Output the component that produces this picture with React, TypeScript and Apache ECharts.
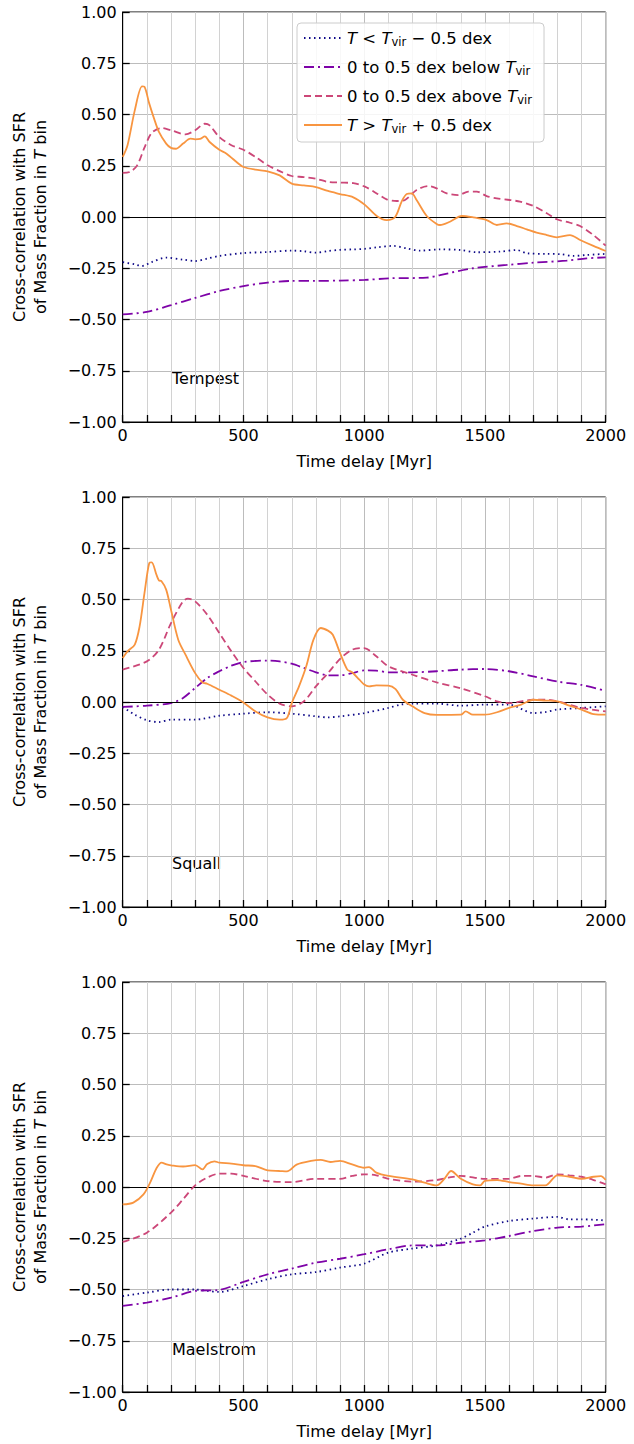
import { useEffect, useRef } from "react";
import * as echarts from "echarts";

// [time delay (Myr), cross-correlation]
const tempestCold = [[0,-0.22],[50,-0.231],[80,-0.239],[120,-0.22],[180,-0.198],[250,-0.208],[300,-0.215],[350,-0.203],[400,-0.19],[500,-0.176],[600,-0.171],[700,-0.164],[750,-0.167],[800,-0.174],[850,-0.166],[900,-0.16],[955,-0.158],[1003,-0.155],[1052,-0.148],[1121,-0.141],[1176,-0.153],[1231,-0.164],[1314,-0.158],[1397,-0.161],[1466,-0.172],[1563,-0.169],[1632,-0.161],[1673,-0.177],[1756,-0.18],[1811,-0.181],[1866,-0.19],[1921,-0.185],[2000,-0.18]];
const tempestBelow = [[0,-0.475],[100,-0.463],[200,-0.43],[300,-0.395],[400,-0.361],[500,-0.337],[600,-0.32],[700,-0.312],[800,-0.312],[900,-0.31],[1003,-0.307],[1107,-0.299],[1259,-0.296],[1314,-0.283],[1452,-0.25],[1590,-0.234],[1700,-0.223],[1838,-0.213],[1921,-0.202],[2000,-0.197]];
const tempestAbove = [[0,0.215],[30,0.22],[60,0.252],[90,0.338],[120,0.41],[160,0.434],[200,0.423],[260,0.403],[300,0.423],[340,0.455],[360,0.447],[400,0.39],[450,0.35],[500,0.328],[550,0.293],[600,0.252],[650,0.224],[700,0.2],[750,0.195],[800,0.187],[850,0.171],[900,0.168],[955,0.165],[1003,0.148],[1052,0.115],[1093,0.086],[1135,0.078],[1169,0.083],[1217,0.132],[1266,0.151],[1300,0.14],[1342,0.115],[1390,0.107],[1431,0.124],[1466,0.124],[1507,0.102],[1549,0.091],[1604,0.083],[1645,0.075],[1700,0.054],[1756,0.018],[1797,-0.011],[1852,-0.028],[1894,-0.044],[1949,-0.088],[2000,-0.14]];
const tempestHot = [[0,0.293],[20,0.35],[50,0.52],[80,0.637],[90,0.635],[110,0.553],[130,0.48],[150,0.415],[180,0.358],[200,0.337],[220,0.333],[250,0.358],[280,0.382],[300,0.379],[320,0.381],[340,0.393],[360,0.366],[400,0.328],[430,0.309],[480,0.26],[500,0.244],[550,0.231],[600,0.223],[650,0.203],[700,0.163],[750,0.154],[800,0.146],[850,0.127],[900,0.112],[955,0.096],[1003,0.059],[1052,0.005],[1093,-0.015],[1128,0.0],[1155,0.075],[1176,0.112],[1197,0.115],[1217,0.083],[1259,0.005],[1300,-0.034],[1314,-0.039],[1355,-0.023],[1404,0.005],[1452,-0.002],[1507,-0.015],[1549,-0.039],[1590,-0.031],[1632,-0.044],[1673,-0.06],[1714,-0.076],[1756,-0.088],[1797,-0.099],[1852,-0.088],[1894,-0.112],[1949,-0.141],[2000,-0.166]];

const squallCold = [[0,-0.024],[50,-0.062],[100,-0.089],[150,-0.098],[200,-0.086],[300,-0.086],[400,-0.067],[500,-0.057],[600,-0.05],[700,-0.057],[800,-0.07],[850,-0.075],[900,-0.07],[1000,-0.054],[1100,-0.029],[1150,-0.013],[1200,-0.008],[1300,-0.008],[1400,-0.018],[1500,-0.013],[1600,-0.013],[1700,-0.054],[1750,-0.049],[1800,-0.037],[1900,-0.029],[2000,-0.021]];
const squallBelow = [[0,-0.024],[100,-0.018],[200,-0.005],[250,0.02],[300,0.068],[350,0.117],[400,0.15],[450,0.177],[500,0.195],[600,0.202],[650,0.198],[700,0.187],[750,0.166],[800,0.145],[850,0.13],[900,0.13],[950,0.141],[1000,0.154],[1050,0.153],[1100,0.145],[1200,0.145],[1300,0.15],[1400,0.158],[1500,0.161],[1600,0.15],[1700,0.125],[1800,0.1],[1900,0.083],[2000,0.055]];
const squallAbove = [[0,0.158],[100,0.198],[150,0.255],[200,0.385],[250,0.491],[270,0.504],[300,0.491],[350,0.426],[400,0.337],[450,0.247],[500,0.166],[550,0.1],[600,0.036],[650,-0.008],[700,-0.021],[750,0.003],[800,0.076],[850,0.141],[900,0.21],[950,0.255],[1000,0.263],[1050,0.223],[1100,0.174],[1200,0.133],[1300,0.096],[1400,0.067],[1500,0.028],[1550,0.003],[1600,-0.005],[1700,0.011],[1750,0.011],[1800,0.003],[1900,-0.029],[2000,-0.046]];
const squallHot = [[0,0.215],[20,0.247],[50,0.28],[70,0.369],[90,0.53],[110,0.678],[120,0.681],[140,0.62],[150,0.593],[160,0.59],[180,0.548],[200,0.45],[230,0.304],[260,0.231],[300,0.141],[330,0.096],[350,0.089],[400,0.06],[450,0.031],[500,-0.002],[550,-0.046],[600,-0.075],[650,-0.086],[680,-0.078],[700,-0.005],[730,0.076],[760,0.174],[790,0.304],[820,0.361],[850,0.348],[870,0.328],[900,0.239],[930,0.158],[950,0.145],[980,0.109],[1000,0.085],[1020,0.076],[1050,0.081],[1100,0.08],[1130,0.063],[1160,0.011],[1200,-0.021],[1250,-0.054],[1300,-0.063],[1400,-0.062],[1420,-0.046],[1450,-0.062],[1500,-0.062],[1550,-0.05],[1600,-0.029],[1650,-0.013],[1700,0.011],[1750,0.007],[1800,0.003],[1850,-0.018],[1900,-0.037],[1950,-0.059],[2000,-0.062]];

const maelstromCold = [[0,-0.532],[100,-0.515],[200,-0.5],[300,-0.5],[350,-0.507],[400,-0.512],[500,-0.483],[600,-0.45],[700,-0.426],[800,-0.415],[900,-0.393],[1000,-0.374],[1100,-0.32],[1200,-0.3],[1300,-0.285],[1400,-0.252],[1450,-0.223],[1500,-0.193],[1600,-0.166],[1700,-0.154],[1800,-0.146],[1850,-0.158],[1900,-0.158],[2000,-0.163]];
const maelstromBelow = [[0,-0.58],[100,-0.564],[200,-0.54],[300,-0.507],[400,-0.502],[500,-0.463],[600,-0.426],[700,-0.398],[800,-0.369],[900,-0.35],[1000,-0.328],[1100,-0.304],[1200,-0.285],[1300,-0.285],[1400,-0.272],[1500,-0.26],[1600,-0.239],[1700,-0.215],[1800,-0.198],[1900,-0.193],[2000,-0.182]];
const maelstromAbove = [[0,-0.268],[100,-0.223],[200,-0.125],[250,-0.06],[300,0.008],[350,0.046],[400,0.065],[450,0.065],[500,0.054],[600,0.029],[700,0.024],[800,0.04],[900,0.04],[950,0.054],[1000,0.062],[1050,0.057],[1100,0.04],[1200,0.026],[1300,0.034],[1350,0.046],[1400,0.054],[1500,0.04],[1600,0.04],[1650,0.054],[1700,0.054],[1750,0.046],[1800,0.062],[1850,0.057],[1900,0.05],[1950,0.034],[2000,0.013]];
const maelstromHot = [[0,-0.085],[44,-0.076],[86,-0.036],[113,0.02],[141,0.094],[161,0.119],[182,0.11],[200,0.106],[250,0.1],[300,0.107],[330,0.086],[350,0.112],[380,0.125],[400,0.119],[450,0.114],[500,0.106],[550,0.102],[600,0.081],[650,0.078],[680,0.076],[720,0.109],[780,0.127],[820,0.132],[860,0.122],[900,0.127],[950,0.11],[1000,0.094],[1020,0.097],[1050,0.07],[1100,0.054],[1200,0.037],[1250,0.021],[1300,0.008],[1330,0.037],[1360,0.078],[1400,0.04],[1450,0.013],[1480,0.008],[1500,0.03],[1550,0.034],[1600,0.024],[1650,0.016],[1700,0.008],[1750,0.008],[1800,0.057],[1850,0.05],[1900,0.04],[1950,0.05],[1980,0.053],[2000,0.034]];

const haloNames = ["Tempest", "Squall", "Maelstrom"];
const seriesNames = ["cold", "below", "above", "hot"];
const legendLabels: Record<string, string> = {
  cold: "{i|T} < {i|T}{s|vir} − 0.5 dex",
  below: "0 to 0.5 dex below {i|T}{s|vir}",
  above: "0 to 0.5 dex above {i|T}{s|vir}",
  hot: "{i|T} > {i|T}{s|vir} + 0.5 dex",
};
const panels = [
  [tempestCold, tempestBelow, tempestAbove, tempestHot],
  [squallCold, squallBelow, squallAbove, squallHot],
  [maelstromCold, maelstromBelow, maelstromAbove, maelstromHot],
];

const colors = ["#0d0887", "#7e03a8", "#cc4778", "#f89540"];
const dashes: any[] = [[1.5, 3.5], [10, 4, 2, 4], [7, 4], "solid"];
const FONT = "DejaVu Sans";
const gridTops = [12, 497, 982];

export default function App() {
  const chartRef = useRef<HTMLDivElement>(null);

  useEffect(() => {
    if (!chartRef.current) return;
    const chart = echarts.init(chartRef.current, null, { renderer: "svg" });

    const grids = gridTops.map((top) => ({
      left: 122.7,
      width: 483,
      top,
      height: 410,
      show: true,
      borderColor: "#000",
      borderWidth: 1,
      backgroundColor: "transparent",
    }));

    const xAxes = gridTops.map((_, i) => ({
      type: "value",
      gridIndex: i,
      min: 0,
      max: 2000,
      interval: 500,
      name: "Time delay [Myr]",
      nameLocation: "middle",
      nameGap: 31,
      nameTextStyle: { fontSize: 16, color: "#000", fontFamily: FONT },
      axisLine: { show: true, onZero: false, lineStyle: { color: "#000", width: 1 } },
      axisTick: { show: true, inside: true, length: 7, lineStyle: { color: "#000", width: 1.3 } },
      minorTick: { show: true, splitNumber: 5, length: 7, lineStyle: { color: "#000", width: 1.3 } },
      axisLabel: {
        fontSize: 16,
        color: "#000",
        margin: 5,
        fontFamily: FONT,
        showMinLabel: true,
        showMaxLabel: true,
        formatter: (v: number) => String(v),
      },
      splitLine: { show: true, lineStyle: { color: "#bcbcbc", width: 1 } },
      minorSplitLine: { show: true, lineStyle: { color: "#d2d2d2", width: 1 } },
    }));

    const yAxes = gridTops.map((_, i) => ({
      type: "value",
      gridIndex: i,
      min: -1,
      max: 1,
      interval: 0.25,
      name: "Cross-correlation with SFR\nof Mass Fraction in {i|T} bin",
      nameLocation: "middle",
      nameGap: 72,
      nameTextStyle: {
        fontSize: 16,
        lineHeight: 21,
        color: "#000",
        fontFamily: FONT,
        rich: { i: { fontStyle: "italic", fontSize: 16, lineHeight: 21, fontFamily: FONT } },
      },
      axisLine: { show: true, onZero: false, lineStyle: { color: "#000", width: 1 } },
      axisTick: { show: true, inside: true, length: 7, lineStyle: { color: "#000", width: 1.3 } },
      axisLabel: {
        fontSize: 16,
        color: "#000",
        margin: 6,
        fontFamily: FONT,
        showMinLabel: true,
        showMaxLabel: true,
        formatter: (v: number) => v.toFixed(2).replace("-", "−"),
      },
      splitLine: { show: true, lineStyle: { color: "#bcbcbc", width: 1 } },
    }));

    const series: any[] = [];
    panels.forEach((panel, p) => {
      panel.forEach((data, k) => {
        series.push({
          name: seriesNames[k],
          type: "line",
          xAxisIndex: p,
          yAxisIndex: p,
          data,
          smooth: 0.3,
          symbol: "none",
          showSymbol: false,
          z: 3 + k,
          itemStyle: { color: colors[k] },
          lineStyle: { color: colors[k], width: 1.8, type: dashes[k] },
          markLine:
            k === 0
              ? {
                  silent: true,
                  symbol: ["none", "none"],
                  label: { show: false },
                  lineStyle: { color: "#000", width: 1, type: "solid" },
                  data: [{ yAxis: 0 }],
                }
              : undefined,
        });
      });
    });

    chart.setOption({
      animation: false,
      backgroundColor: "#fff",
      textStyle: { fontFamily: FONT },
      grid: grids,
      xAxis: xAxes,
      yAxis: yAxes,
      legend: {
        data: seriesNames,
        orient: "vertical",
        left: 297,
        top: 23,
        itemWidth: 38,
        itemHeight: 20,
        itemGap: 9,
        padding: [5, 12, 7, 6],
        backgroundColor: "rgba(255,255,255,0.85)",
        borderColor: "#cccccc",
        borderWidth: 1,
        borderRadius: 4,
        itemStyle: { opacity: 0 },
        formatter: (name: string) => legendLabels[name],
        textStyle: {
          fontSize: 16.5,
          lineHeight: 20,
          color: "#000",
          fontFamily: FONT,
          rich: {
            i: { fontStyle: "italic", fontSize: 16.5, lineHeight: 20, fontFamily: FONT },
            s: { fontSize: 11.5, lineHeight: 12, verticalAlign: "bottom", fontFamily: FONT },
          },
        },
      },
      graphic: haloNames.map((name, i) => ({
        type: "text",
        left: 172,
        top: [370, 855, 1341][i],
        style: { text: name, fontSize: 16, fill: "#000", fontFamily: FONT },
      })),
      series,
    });

    return () => {
      chart.dispose();
    };
  }, []);

  return (
    <div
      ref={chartRef}
      style={{ position: "absolute", left: 0, top: 0, width: 634, height: 1444 }}
    />
  );
}
